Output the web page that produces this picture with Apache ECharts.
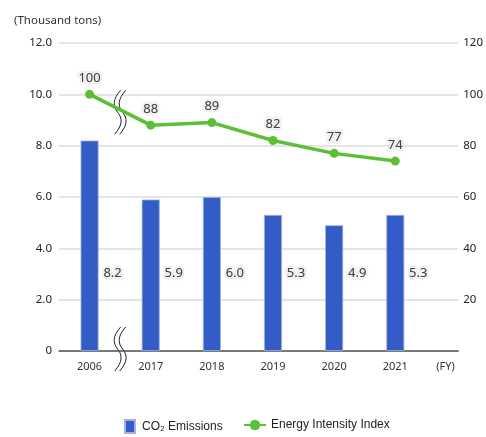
<!DOCTYPE html>
<html>
<head>
<meta charset="utf-8">
<script src="https://cdn.jsdelivr.net/npm/echarts@6/dist/echarts.min.js"></script>
<style>
  html, body { margin: 0; padding: 0; background: #fff; }
  #chart { width: 486px; height: 437px; }
</style>
</head>
<body>
<div id="chart"></div>
<script>
// Fiscal years on the x axis
const years = ['2006', '2017', '2018', '2019', '2020', '2021'];
// CO2 emissions, thousand tons (left axis)
const co2 = [8.2, 5.9, 6.0, 5.3, 4.9, 5.3];
// Energy intensity index, FY2006 = 100 (right axis)
const intensity = [100, 88, 89, 82, 77, 74];
// Axis ranges
const leftMax = 12, leftStep = 2;
const rightMax = 120, rightStep = 20;

const BLUE = '#335cc6';
const GREEN = '#5cbf38';
const FONT = '"Noto Sans", "Open Sans", sans-serif';
const LEGEND_FONT = '"Liberation Sans", Arial, sans-serif';

const haloLabel = {
  color: '#444',
  fontFamily: FONT,
  fontSize: 13,
  textBorderColor: '#fff',
  textBorderWidth: 3,
  textShadowColor: 'rgba(0,0,0,0.3)',
  textShadowBlur: 1.5
};

const chart = echarts.init(document.getElementById('chart'), null, { renderer: 'canvas' });

chart.setOption({
  animation: false,
  backgroundColor: '#fff',
  title: {
    text: '(Thousand tons)',
    left: 9, top: 10,
    textStyle: { fontFamily: FONT, fontSize: 11.5, fontWeight: 'normal', color: '#333' }
  },
  grid: { left: 59, right: 25, top: 43, bottom: 86 },
  xAxis: {
    type: 'value',
    min: -0.5, max: 6.03,
    axisLine: { show: true, lineStyle: { color: '#555', width: 1.5 } },
    axisTick: { show: false },
    splitLine: { show: false },
    axisLabel: {
      customValues: years.map((_, i) => i),
      formatter: v => years[Math.round(v)] || '',
      margin: 10,
      color: '#333', fontFamily: FONT, fontSize: 11
    }
  },
  yAxis: [
    {
      type: 'value', min: 0, max: leftMax, interval: leftStep,
      axisLine: { show: false }, axisTick: { show: false },
      splitLine: { lineStyle: { color: '#dcdcdc', width: 1.5 } },
      axisLabel: {
        formatter: v => v === 0 ? '0' : v.toFixed(1),
        margin: 7, color: '#222', fontFamily: FONT, fontSize: 11.5
      }
    },
    {
      type: 'value', min: 0, max: rightMax, interval: rightStep,
      axisLine: { show: false }, axisTick: { show: false },
      splitLine: { show: false },
      axisLabel: {
        formatter: v => v === 0 ? '' : String(v),
        margin: 5, color: '#222', fontFamily: FONT, fontSize: 11.5
      }
    }
  ],
  legend: [
    {
      left: 124, top: 419, padding: 0,
      itemWidth: 10, itemHeight: 13,
      textStyle: { fontFamily: LEGEND_FONT, fontSize: 12, color: '#222', padding: [0, 0, 0, 2] },
      data: [{ name: 'CO₂ Emissions', icon: 'rect' }]
    },
    {
      left: 243, top: 419, padding: 0,
      itemWidth: 22, itemHeight: 13,
      textStyle: { fontFamily: LEGEND_FONT, fontSize: 12, color: '#222' },
      data: [{ name: 'Energy Intensity Index' }]
    }
  ],
  series: [
    {
      name: 'CO₂ Emissions',
      type: 'bar',
      barWidth: 18,
      itemStyle: { color: BLUE, borderColor: '#9fb2e2', borderWidth: 0.8 },
      data: co2.map((v, i) => [i, v]),
      label: Object.assign({
        show: true,
        position: 'insideBottom',
        distance: 0,
        offset: [23, -71],
        formatter: p => p.value[1].toFixed(1)
      }, haloLabel)
    },
    {
      name: 'Energy Intensity Index',
      type: 'line',
      yAxisIndex: 1,
      symbol: 'circle',
      symbolSize: 9,
      lineStyle: { color: GREEN, width: 3.5 },
      itemStyle: { color: GREEN },
      data: intensity.map((v, i) => [i, v]),
      label: Object.assign({
        show: true,
        position: 'top',
        distance: 5,
        formatter: p => String(p.value[1])
      }, haloLabel),
      z: 3
    }
  ]
});

// Axis-break marks between FY2006 and FY2017, placed through the axes
function wave(dx, stroke, width) {
  return [
    {
      type: 'bezierCurve', x: dx,
      shape: { x1: 3, y1: -22, cpx1: -5, cpy1: -13, cpx2: -5, cpy2: -6, x2: 0, y2: 0 },
      style: { fill: null, stroke: stroke, lineWidth: width }
    },
    {
      type: 'bezierCurve', x: dx,
      shape: { x1: 0, y1: 0, cpx1: 5, cpy1: 6, cpx2: 5, cpy2: 13, x2: -3, y2: 22 },
      style: { fill: null, stroke: stroke, lineWidth: width }
    }
  ];
}
function breakMark(cx, cy) {
  return {
    type: 'group', x: cx, y: cy, z: 100,
    children: [].concat(wave(0, '#fff', 5), wave(-2.5, '#222', 1), wave(2.5, '#222', 1))
  };
}
const upper = chart.convertToPixel({ xAxisIndex: 0, yAxisIndex: 1 }, [0.5, 93]);
const lower = chart.convertToPixel({ xAxisIndex: 0, yAxisIndex: 1 }, [0.5, 0]);
const axisEnd = chart.convertToPixel({ xAxisIndex: 0, yAxisIndex: 0 }, [6.03, 0]);

chart.setOption({
  graphic: [
    breakMark(upper[0], upper[1]),
    breakMark(lower[0], lower[1] - 2),
    {
      type: 'text', z: 100,
      x: axisEnd[0] - 22, y: axisEnd[1] + 10,
      style: { text: '(FY)', font: '11px ' + FONT, fill: '#333' }
    }
  ]
});
</script>
</body>
</html>
